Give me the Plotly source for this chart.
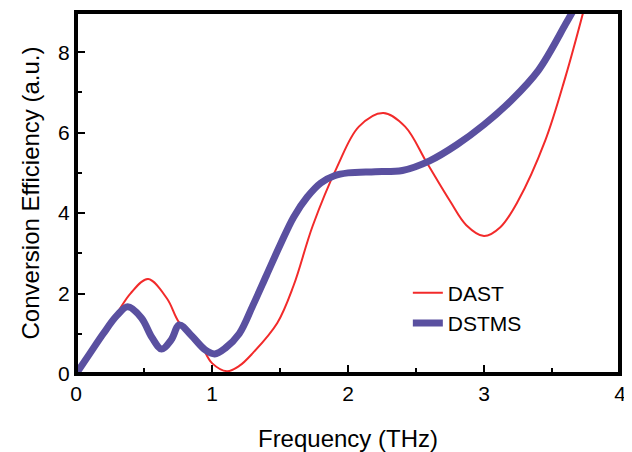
import plotly.graph_objects as go

# DAST (thin red)
dast_x = [0.0, 0.1, 0.2, 0.3, 0.4, 0.53, 0.67, 0.76, 0.91, 1.0, 1.11, 1.2, 1.3, 1.48, 1.6, 1.74, 1.92, 2.08, 2.26, 2.42, 2.58, 2.75, 2.87, 3.0, 3.12, 3.25, 3.45, 3.6, 3.73]
dast_y = [0.0, 0.5, 1.0, 1.5, 2.0, 2.36, 1.87, 1.27, 0.77, 0.27, 0.07, 0.2, 0.52, 1.27, 2.2, 3.68, 5.15, 6.15, 6.49, 6.15, 5.25, 4.3, 3.7, 3.43, 3.65, 4.3, 5.8, 7.4, 9.0]

# DSTMS (thick blue)
dstms_x = [0.0, 0.1, 0.2, 0.3, 0.38, 0.48, 0.56, 0.63, 0.7, 0.76, 0.85, 0.95, 1.02, 1.1, 1.2, 1.3, 1.4, 1.5, 1.6, 1.7, 1.8, 1.9, 2.0, 2.2, 2.4, 2.6, 2.8, 3.0, 3.2, 3.4, 3.6, 3.65]
dstms_y = [0.0, 0.5, 1.0, 1.45, 1.67, 1.4, 0.9, 0.62, 0.85, 1.22, 0.95, 0.6, 0.5, 0.65, 1.0, 1.7, 2.45, 3.2, 3.9, 4.4, 4.75, 4.93, 5.0, 5.03, 5.06, 5.3, 5.7, 6.2, 6.8, 7.55, 8.7, 9.0]

x_range = [0, 4]
y_range = [0, 9]
x_ticks = [0, 1, 2, 3, 4]
y_ticks = [0, 2, 4, 6, 8]

FONT = "Liberation Sans, Arial, sans-serif"

fig = go.Figure()
fig.add_trace(go.Scatter(x=dast_x, y=dast_y, mode="lines", name="DAST",
                         line=dict(color="#f22a2a", width=2, shape="spline", smoothing=1.0)))
fig.add_trace(go.Scatter(x=dstms_x, y=dstms_y, mode="lines", name="DSTMS",
                         line=dict(color="#5a50a0", width=7, shape="spline", smoothing=1.0)))

# plot frame following the axis ranges
fx = [x_range[0], x_range[1], x_range[1], x_range[0], x_range[0]]
fy = [y_range[0], y_range[0], y_range[1], y_range[1], y_range[0]]
fig.add_trace(go.Scatter(x=fx, y=fy, mode="lines", showlegend=False, hoverinfo="skip",
                         line=dict(color="black", width=4)))

fig.update_layout(
    width=624, height=444, margin=dict(l=68, r=12, t=4, b=78),
    plot_bgcolor="white", paper_bgcolor="white",
    showlegend=True,
    legend=dict(x=0.61, y=0.28, xanchor="left", yanchor="top",
                bgcolor="rgba(0,0,0,0)", tracegroupgap=0,
                font=dict(family=FONT, size=21, color="black")),
    xaxis=dict(range=x_range, tickvals=x_ticks, ticktext=[str(v) for v in x_ticks],
               showline=True, linecolor="black", linewidth=2, mirror=True,
               ticks="inside", ticklen=9, tickwidth=2, tickcolor="black",
               showgrid=False, zeroline=False, automargin=False,
               minor=dict(ticks="inside", ticklen=6, tickwidth=2, tickcolor="black", dtick=0.5),
               tickfont=dict(family=FONT, size=21, color="black"),
               title=dict(text="Frequency (THz)", font=dict(family=FONT, size=24, color="black"), standoff=30)),
    yaxis=dict(range=y_range, tickvals=y_ticks, ticktext=[str(v) for v in y_ticks],
               showline=True, linecolor="black", linewidth=2, mirror=True,
               ticks="inside", ticklen=9, tickwidth=2, tickcolor="black",
               showgrid=False, zeroline=False, automargin=False,
               minor=dict(ticks="inside", ticklen=6, tickwidth=2, tickcolor="black", dtick=1),
               tickfont=dict(family=FONT, size=21, color="black"),
               title=dict(text="Conversion Efficiency (a.u.)", font=dict(family=FONT, size=24, color="black"), standoff=12)),
)

fig.write_html("out.html")
